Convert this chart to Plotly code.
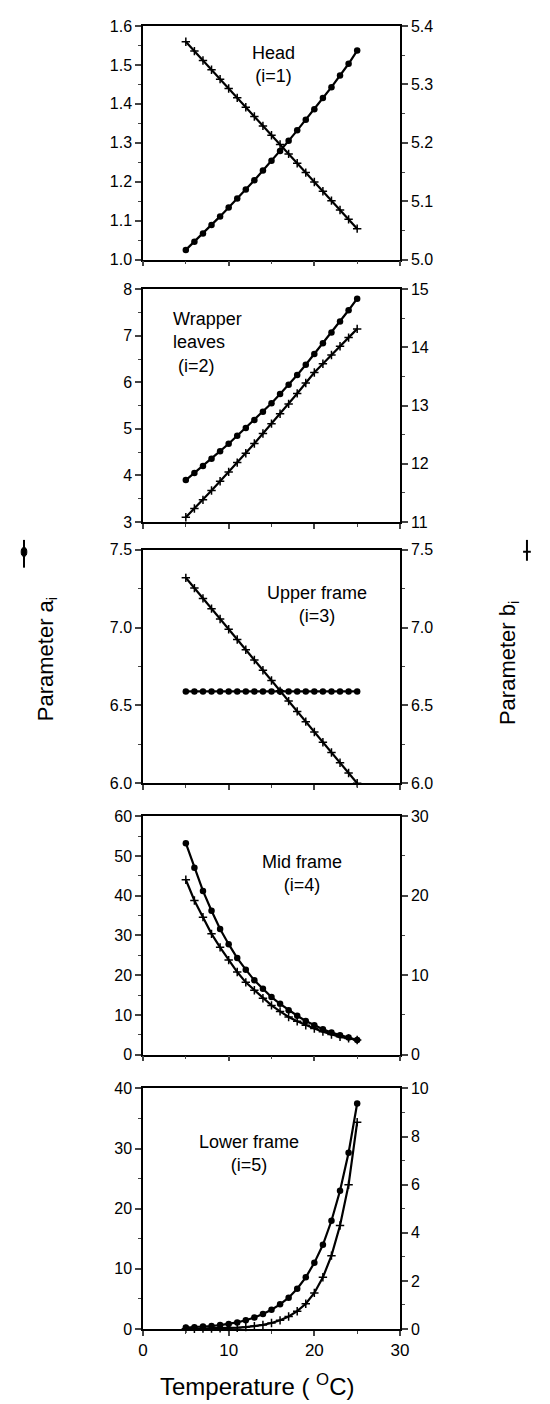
import plotly.graph_objects as go

temperature = list(range(5, 26))

# Panel 1 - Head (i=1)
head_a = [1.025, 1.046, 1.067, 1.089, 1.111, 1.134, 1.157, 1.180, 1.204, 1.229, 1.254,
          1.279, 1.305, 1.332, 1.359, 1.386, 1.415, 1.443, 1.473, 1.503, 1.537]
head_b = [5.373, 5.357, 5.341, 5.325, 5.309, 5.293, 5.277, 5.261, 5.245, 5.229, 5.213,
          5.197, 5.181, 5.165, 5.149, 5.133, 5.117, 5.101, 5.085, 5.069, 5.053]

# Panel 2 - Wrapper leaves (i=2)
wrap_a = [3.90, 4.05, 4.20, 4.36, 4.52, 4.68, 4.85, 5.02, 5.19, 5.37, 5.55,
          5.75, 5.95, 6.16, 6.38, 6.61, 6.84, 7.07, 7.31, 7.55, 7.80]
wrap_b = [11.08, 11.23, 11.38, 11.54, 11.70, 11.86, 12.02, 12.18, 12.35, 12.52, 12.69,
          12.86, 13.03, 13.21, 13.39, 13.57, 13.72, 13.87, 14.02, 14.17, 14.32]

# Panel 3 - Upper frame (i=3)
upper_a = [6.59] * 21
upper_b = [7.32, 7.254, 7.188, 7.122, 7.056, 6.99, 6.924, 6.858, 6.792, 6.726, 6.66,
           6.594, 6.528, 6.462, 6.396, 6.33, 6.264, 6.198, 6.132, 6.066, 6.0]

# Panel 4 - Mid frame (i=4)
mid_a = [53.2, 47.0, 41.2, 36.2, 31.6, 27.8, 24.3, 21.4, 18.7, 16.6, 14.5,
         12.8, 11.2, 9.8, 8.5, 7.4, 6.4, 5.6, 4.9, 4.3, 3.7]
mid_b = [22.0, 19.4, 17.3, 15.2, 13.5, 11.9, 10.4, 9.1, 8.1, 7.1, 6.2,
         5.45, 4.75, 4.2, 3.7, 3.3, 2.9, 2.55, 2.25, 2.05, 1.85]

# Panel 5 - Lower frame (i=5)
lower_a = [0.25, 0.3, 0.4, 0.5, 0.65, 0.85, 1.1, 1.45, 1.9, 2.5, 3.2,
           4.1, 5.2, 6.7, 8.6, 11.0, 14.0, 18.0, 23.0, 29.3, 37.5]
lower_b = [0.007, 0.01, 0.014, 0.02, 0.03, 0.04, 0.055, 0.08, 0.12, 0.17, 0.25,
           0.36, 0.52, 0.74, 1.05, 1.5, 2.15, 3.05, 4.3, 6.0, 8.6]

panels = [
    dict(a=head_a, b=head_b, lr=[1.0, 1.6], ld=0.1, lm=0.05, lf=".1f",
         rr=[5.0, 5.4], rd=0.1, rm=0.05, rf=".1f",
         text="Head<br>(i=1)", tx=15.2, ty=1.5, align="center"),
    dict(a=wrap_a, b=wrap_b, lr=[3, 8], ld=1, lm=0.5, lf="d",
         rr=[11, 15], rd=1, rm=0.5, rf="d",
         text="Wrapper<br>leaves<br> (i=2)", tx=3.3, ty=6.85, align="left"),
    dict(a=upper_a, b=upper_b, lr=[6.0, 7.5], ld=0.5, lm=0.25, lf=".1f",
         rr=[6.0, 7.5], rd=0.5, rm=0.25, rf=".1f",
         text="Upper frame<br>(i=3)", tx=20.3, ty=7.15, align="center"),
    dict(a=mid_a, b=mid_b, lr=[0, 60], ld=10, lm=5, lf="d",
         rr=[0, 30], rd=10, rm=5, rf="d",
         text="Mid frame<br>(i=4)", tx=18.6, ty=45.5, align="center"),
    dict(a=lower_a, b=lower_b, lr=[0, 40], ld=10, lm=5, lf="d",
         rr=[0, 10], rd=2, rm=1, rf="d",
         text="Lower frame<br>(i=5)", tx=12.4, ty=29.2, align="center"),
]

# vertical domains (paper fractions)
domains = [[0.8207, 1.0], [0.6194, 0.7979], [0.4188, 0.5980], [0.2105, 0.3936], [0.0, 0.1846]]

FONT = "Liberation Sans, Arial, sans-serif"
fig = go.Figure()
layout = {}
annotations = []

for k, p in enumerate(panels, start=1):
    xa = "x" if k == 1 else f"x{k}"
    ya = "y" if k == 1 else f"y{k}"
    yb = f"y{k + 5}"
    fig.add_trace(go.Scatter(
        x=temperature, y=p["a"], xaxis=xa, yaxis=ya, mode="lines+markers",
        line=dict(color="black", width=2.2),
        marker=dict(symbol="circle", size=6.5, color="black"),
        cliponaxis=False, showlegend=False))
    fig.add_trace(go.Scatter(
        x=temperature, y=p["b"], xaxis=xa, yaxis=yb, mode="lines+markers",
        line=dict(color="black", width=2.2),
        marker=dict(symbol="cross-thin", size=6, color="black",
                    line=dict(width=1.5, color="black")),
        cliponaxis=False, showlegend=False))

    layout["xaxis" if k == 1 else f"xaxis{k}"] = dict(
        domain=[0, 1], range=[0, 30], anchor=ya,
        tickvals=[0, 10, 20, 30], ticks="outside", ticklen=5, tickwidth=1.5,
        showticklabels=(k == 5), showline=True, linewidth=1.5, linecolor="black",
        mirror=True, showgrid=False, zeroline=False,
        minor=dict(dtick=5, tick0=0, ticks="outside", ticklen=3, tickwidth=1.2,
                   showgrid=False),
        tickfont=dict(family=FONT, size=17, color="black"))
    layout["yaxis" if k == 1 else f"yaxis{k}"] = dict(
        domain=domains[k - 1], range=p["lr"], anchor=xa,
        dtick=p["ld"], tick0=p["lr"][0], tickformat=p["lf"],
        ticks="outside", ticklen=6, tickwidth=1.5,
        showline=True, linewidth=1.5, linecolor="black",
        showgrid=False, zeroline=False,
        minor=dict(dtick=p["lm"], tick0=p["lr"][0], ticks="outside", ticklen=3,
                   tickwidth=1.2, showgrid=False),
        tickfont=dict(family=FONT, size=16, color="black"))
    layout[f"yaxis{k + 5}"] = dict(
        range=p["rr"], anchor=xa, overlaying=ya, side="right",
        dtick=p["rd"], tick0=p["rr"][0], tickformat=p["rf"],
        ticks="outside", ticklen=6, tickwidth=1.5,
        showline=True, linewidth=1.5, linecolor="black",
        showgrid=False, zeroline=False,
        minor=dict(dtick=p["rm"], tick0=p["rr"][0], ticks="outside", ticklen=3,
                   tickwidth=1.2, showgrid=False),
        tickfont=dict(family=FONT, size=16, color="black"))
    annotations.append(dict(
        x=p["tx"], y=p["ty"], xref=xa, yref=ya, text=p["text"], showarrow=False,
        align=p["align"], xanchor="left" if p["align"] == "left" else "center",
        yanchor="middle", font=dict(family=FONT, size=18, color="black")))

# axis titles
annotations.append(dict(x=-0.436, y=0.514, xref="paper", yref="paper",
                        text="Parameter a<sub>i</sub>", textangle=-90, showarrow=False,
                        font=dict(family=FONT, size=22, color="black")))
annotations.append(dict(x=1.486, y=0.511, xref="paper", yref="paper",
                        text="Parameter b<sub>i</sub>", textangle=-90, showarrow=False,
                        font=dict(family=FONT, size=22, color="black")))
annotations.append(dict(x=0.444, y=-0.030, xref="paper", yref="paper",
                        text="Temperature ( <sup>O</sup>C)", showarrow=False,
                        yanchor="top",
                        font=dict(family=FONT, size=24, color="black")))

shapes = [
    # legend glyph for a (line with dot)
    dict(type="line", xref="paper", yref="paper", x0=-0.463, x1=-0.463,
         y0=0.5843, y1=0.6056, line=dict(color="black", width=2)),
    dict(type="circle", xref="paper", yref="paper", x0=-0.474, x1=-0.452,
         y0=0.5930, y1=0.5998, fillcolor="black", line=dict(color="black", width=1)),
    # legend glyph for b (line with cross)
    dict(type="line", xref="paper", yref="paper", x0=1.494, x1=1.494,
         y0=0.5896, y1=0.6056, line=dict(color="black", width=2)),
    dict(type="line", xref="paper", yref="paper", x0=1.479, x1=1.509,
         y0=0.5965, y1=0.5965, line=dict(color="black", width=2)),
]

# the page body adds an 8px offset, so the figure is 8px smaller and margins shifted
fig.update_layout(
    width=542, height=1396,
    margin=dict(l=135, r=150, t=10, b=75),
    paper_bgcolor="white", plot_bgcolor="white",
    showlegend=False,
    annotations=annotations, shapes=shapes,
    font=dict(family=FONT, color="black"),
    **layout)

fig.write_html("out.html")
